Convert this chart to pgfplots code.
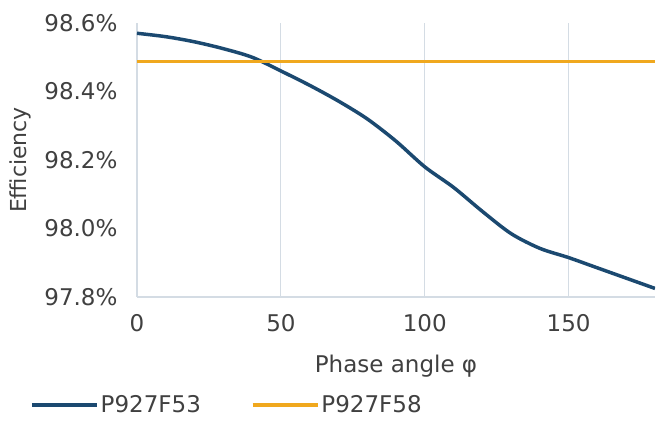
\documentclass[border=0pt]{standalone}
\usepackage{pgfplots}
\pgfplotsset{compat=1.18}
\usepackage{fontspec}
\setmainfont{DejaVu Sans}
\definecolor{navy}{RGB}{27,73,112}
\definecolor{gold}{RGB}{240,168,30}
\definecolor{gridc}{RGB}{212,220,228}
\definecolor{txt}{RGB}{64,64,64}
\begin{document}
\begin{tikzpicture}[font=\fontsize{23}{27}\selectfont]
\useasboundingbox (-137pt,-128pt) rectangle (519pt,297pt);
\begin{axis}[
  at={(0pt,0pt)}, anchor=south west,
  scale only axis, width=518pt, height=274pt,
  xmin=0, xmax=180, ymin=97.8, ymax=98.6,
  xtick={0,50,100,150}, ytick={97.8,98.0,98.2,98.4,98.6},
  axis x line*=bottom, axis y line*=left,
  axis line style={gridc, line width=1.2pt},
  x axis line style={-}, y axis line style={-},
  major tick length=0pt,
  xmajorgrids, grid style={gridc, line width=1.2pt},
  /pgf/number format/assume math mode=true,
  yticklabel={\pgfmathprintnumber[fixed,fixed zerofill,precision=1]{\tick}\%},
  ticklabel style={text=txt},
  xticklabel style={yshift=-14pt},
  yticklabel style={xshift=-16pt},
  xlabel={Phase angle φ}, ylabel={Efficiency},
  label style={text=txt},
  xlabel style={yshift=-16pt},
  ylabel style={yshift=6pt, font=\fontsize{22}{26}\selectfont},
  legend style={at={(-0.2066,-0.394)}, anchor=west, draw=none, fill=none,
    legend columns=2, text=txt, inner sep=0pt,
    /tikz/every even column/.append style={column sep=48pt}},
  legend image code/.code={\draw[#1,line width=3.5pt] (0pt,0pt) -- (65pt,0pt);},
]
\addplot[navy, line width=3.5pt, smooth] coordinates {
(0,98.57) (10,98.56) (20,98.545) (30,98.525) (40,98.50) (50,98.46)
(60,98.418) (70,98.372) (80,98.32) (90,98.255) (100,98.18) (110,98.12)
(120,98.05) (130,97.985) (140,97.942) (150,97.915) (160,97.885)
(170,97.855) (180,97.825)};
\addlegendentry{P927F53}
\addplot[gold, line width=3.5pt] coordinates {(0,98.487) (180,98.487)};
\addlegendentry{P927F58}
\end{axis}
\end{tikzpicture}
\end{document}
